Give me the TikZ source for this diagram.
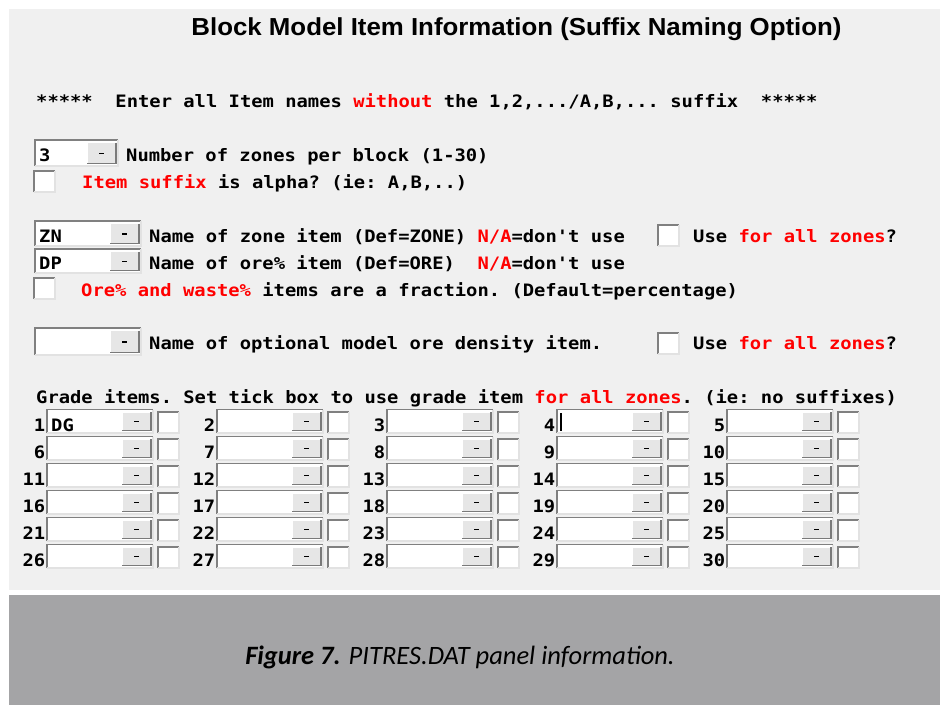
\documentclass[tikz,border=0pt]{standalone}
\usepackage{fontspec}
\setmainfont{Liberation Sans}
\setmonofont{DejaVu Sans Mono}[FakeStretch=1.1]
\newfontfamily\capfont{Carlito}
\newfontfamily\titlefont{Liberation Sans}[FakeStretch=1.05]
\definecolor{panelbg}{HTML}{F0F0F0}
\definecolor{capband}{HTML}{A4A4A6}
\definecolor{uired}{HTML}{FF0000}
\definecolor{frdark}{HTML}{808080}
\definecolor{frlight}{HTML}{E2E2E2}
\definecolor{btnface}{HTML}{E6E6E6}
\definecolor{btndark}{HTML}{7A7A7A}
\newcommand\mt{\ttfamily\bfseries\fontsize{17.1}{20}\selectfont}
\newcommand\rd[1]{\textcolor{uired}{#1}}
% combo: name, x, y(top), width, height
\newcommand\cmbx[5]{%
  \node[name=#1,fill=white,inner sep=0pt,minimum width=#4pt,minimum height=#5pt,anchor=north west] at (#2,#3) {};
  \draw[frdark,line width=1.6pt] (#2,#3+#5) -- (#2,#3) -- (#2+#4,#3);
  \draw[frlight,line width=1.2pt] (#2+#4,#3) -- (#2+#4,#3+#5) -- (#2,#3+#5);
  \fill[btnface] (#2+#4-31,#3+2.5) rectangle (#2+#4-2,#3+#5-2.5);
  \draw[white,line width=1.2pt] (#2+#4-31,#3+#5-2.5) -- (#2+#4-31,#3+2.5) -- (#2+#4-2,#3+2.5);
  \draw[btndark,line width=1.6pt] (#2+#4-2,#3+2.5) -- (#2+#4-2,#3+#5-2.5) -- (#2+#4-31,#3+#5-2.5);
  \draw[black,line width=1.4pt] (#2+#4-19,#3+#5/2+0.5) -- (#2+#4-14,#3+#5/2+0.5);
}
% checkbox: name, x, y(top)
\newcommand\chkbx[3]{%
  \node[name=#1,fill=white,inner sep=0pt,minimum width=21pt,minimum height=21pt,anchor=north west] at (#2,#3) {};
  \draw[frdark,line width=1.6pt] (#2,#3+21) -- (#2,#3) -- (#2+21,#3);
  \draw[frlight,line width=1.2pt] (#2+21,#3) -- (#2+21,#3+21) -- (#2,#3+21);
}
\begin{document}
\begin{tikzpicture}[x=1pt,y=-1pt,
  mono/.style={font=\mt,inner sep=0pt,anchor=base west},
  every node/.append style={text depth=0pt}]
\useasboundingbox (0,0) rectangle (940,705);
\fill[white] (0,0) rectangle (940,705);
\fill[panelbg] (9,9) rectangle (940,590);
\fill[capband] (9,595) rectangle (940,705);

\node[name=title,font=\titlefont\bfseries\fontsize{24.6}{28}\selectfont,inner sep=0pt,anchor=base] at (516.5,35.5) {Block Model Item Information (Suffix Naming Option)};

\node[mono,name=intro] at (36,107) {*****~~Enter all Item names \rd{without} the 1,2,.../A,B,... suffix~~*****};

\cmbx{zones}{35}{140}{83}{26}
\node[mono,name=zonesv] at (39,161) {3};
\node[mono,name=zonest] at (126,161) {Number of zones per block (1-30)};

\chkbx{alpha}{34}{171}
\node[mono,name=alphat] at (82,188) {\rd{Item suffix} is alpha? (ie: A,B,..)};

\cmbx{zone}{35}{221}{106}{25}
\node[mono,name=zonev] at (39,242) {ZN};
\node[mono,name=zonet] at (149,242) {Name of zone item (Def=ZONE) \rd{N/A}=don't use};
\chkbx{zoneall}{658}{225}
\node[mono,name=zoneallt] at (693,242) {Use \rd{for all zones}?};

\cmbx{ore}{35}{249}{106}{24}
\node[mono,name=orev] at (39,269) {DP};
\node[mono,name=oret] at (149,269) {Name of ore\% item (Def=ORE)~~\rd{N/A}=don't use};

\chkbx{frac}{34}{278}
\node[mono,name=fract] at (81,296) {\rd{Ore\% and waste\%} items are a fraction. (Default=percentage)};

\cmbx{dens}{35}{328}{106}{27}
\node[mono,name=denst] at (149,349) {Name of optional model ore density item.};
\chkbx{densall}{658}{333}
\node[mono,name=densallt] at (693,349) {Use \rd{for all zones}?};

\node[mono,name=gradet] at (36,403) {Grade items. Set tick box to use grade item \rd{for all zones}. (ie: no suffixes)};

\foreach \r in {0,...,5}{
  \foreach \c in {0,...,4}{
    \pgfmathtruncatemacro\gn{5*\r+\c+1}
    \pgfmathsetmacro\gx{47+170*\c}
    \pgfmathsetmacro\gy{409.5+27*\r}
    \cmbx{g\gn}{\gx}{\gy}{106}{23.5}
    \chkbx{t\gn}{\gx+111}{\gy+2.5}
    \node[font=\mt,inner sep=0pt,anchor=base east,name=l\gn] at (\gx-1.5,\gy+21.5) {\gn};
  }
}
\node[mono,name=dg] at (51,431) {DG};
\draw[black,line width=1.6pt] (561,413) -- (561,431);

\node[name=caption,font=\capfont\fontsize{26.5}{30}\selectfont,inner sep=0pt,anchor=base] at (460,664) {\textbf{\textit{Figure 7.}} \textit{PITRES.DAT panel information.}};
\end{tikzpicture}
\end{document}
